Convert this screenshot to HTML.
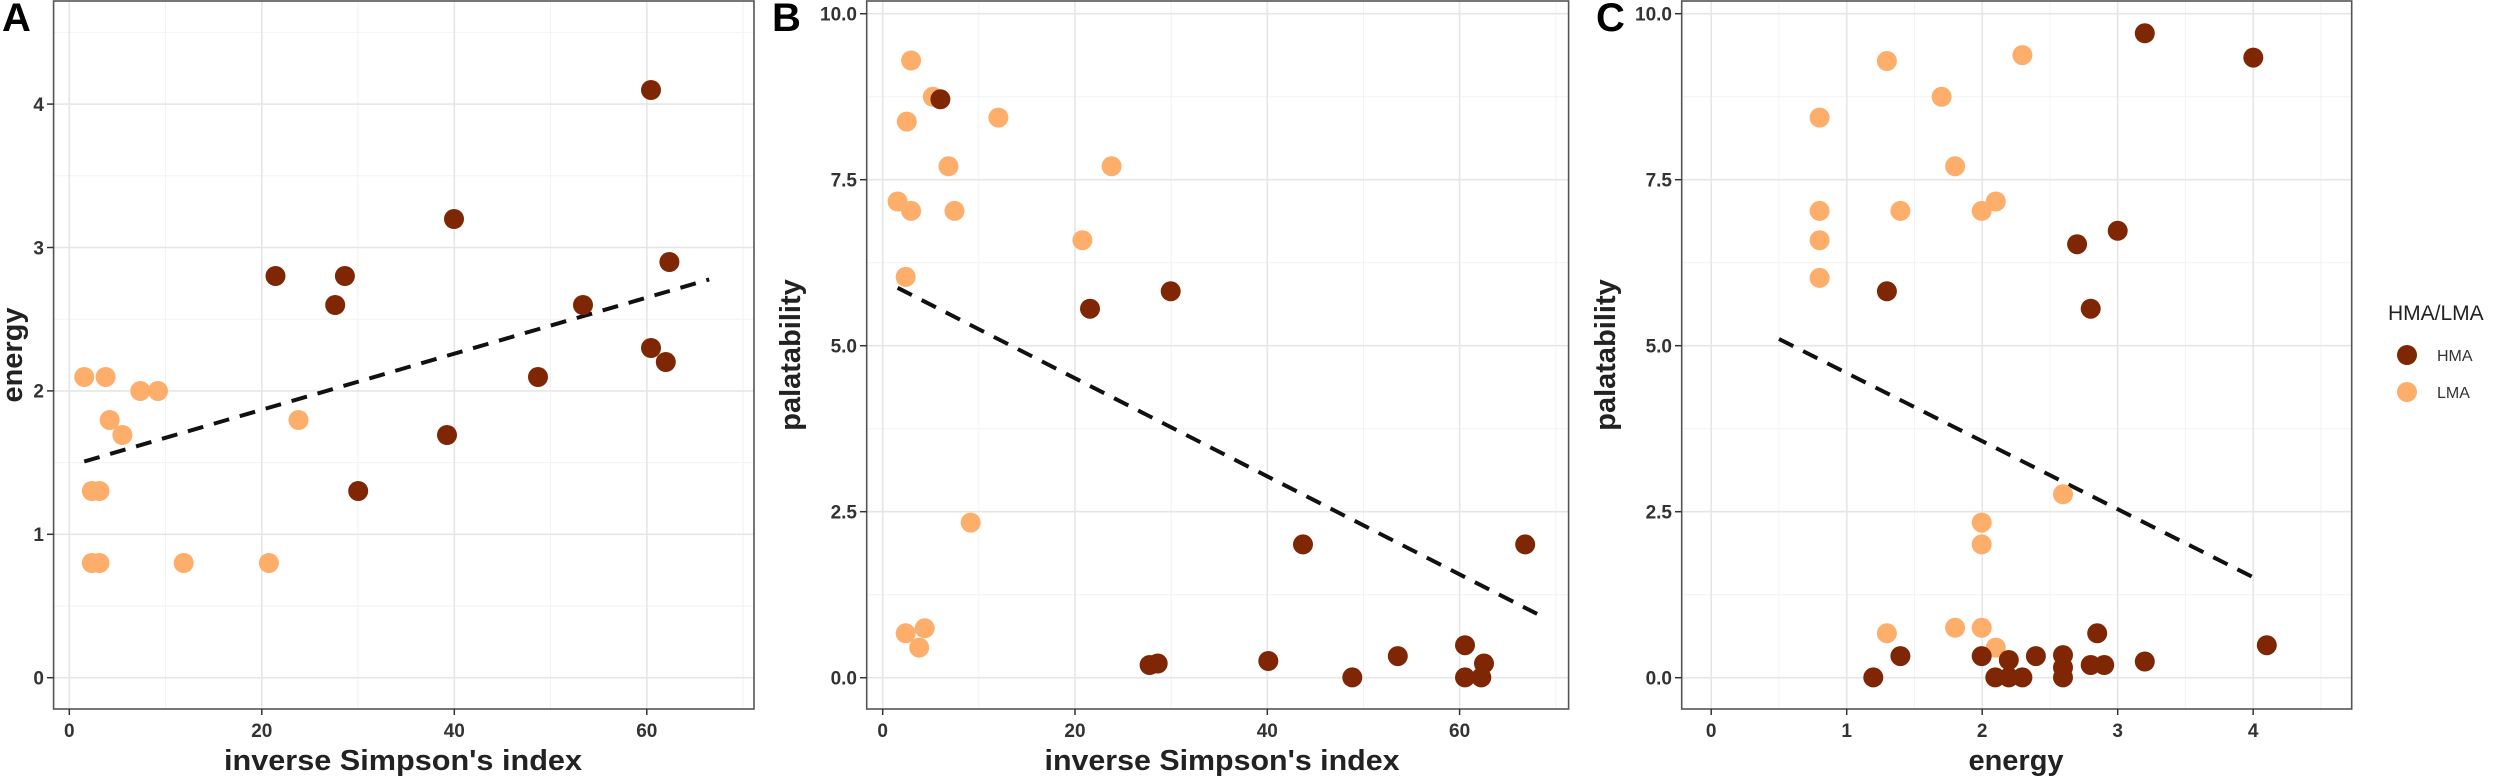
<!DOCTYPE html>
<html><head><meta charset="utf-8"><style>
html,body{margin:0;padding:0;background:#fff;}
svg{display:block;}
text{font-family:"Liberation Sans",Arial,sans-serif;}
.tk{font-size:19px;font-weight:bold;fill:#333;}
.tt{font-size:29px;font-weight:bold;fill:#222;}
.pl{font-size:40px;font-weight:bold;fill:#000;}
.mj{stroke:#e6e6e6;stroke-width:1.6;}
.mn{stroke:#f2f2f2;stroke-width:1;}
.h{fill:#7f2704;}
.l{fill:#fdae6b;}
.bd{fill:none;stroke:#555;stroke-width:1.6;}
.tm{stroke:#333;stroke-width:1.5;}
.dl{stroke:#111;stroke-width:4;stroke-dasharray:16,11;fill:none;}
</style></head><body>
<svg width="2500" height="778" viewBox="0 0 2500 778" xmlns="http://www.w3.org/2000/svg">
<!-- Panel A -->
<g>
<line class="mn" x1="53.6" x2="754" y1="606" y2="606"/><line class="mn" x1="53.6" x2="754" y1="462.6" y2="462.6"/><line class="mn" x1="53.6" x2="754" y1="319.2" y2="319.2"/><line class="mn" x1="53.6" x2="754" y1="175.8" y2="175.8"/><line class="mn" x1="53.6" x2="754" y1="32.4" y2="32.4"/>
<line class="mn" y1="1" y2="709" x1="165.6" x2="165.6"/><line class="mn" y1="1" y2="709" x1="358" x2="358"/><line class="mn" y1="1" y2="709" x1="550.5" x2="550.5"/><line class="mn" y1="1" y2="709" x1="743" x2="743"/>
<line class="mj" x1="53.6" x2="754" y1="677.7" y2="677.7"/><line class="mj" x1="53.6" x2="754" y1="534.3" y2="534.3"/><line class="mj" x1="53.6" x2="754" y1="390.9" y2="390.9"/><line class="mj" x1="53.6" x2="754" y1="247.5" y2="247.5"/><line class="mj" x1="53.6" x2="754" y1="104.1" y2="104.1"/>
<line class="mj" y1="1" y2="709" x1="69.3" x2="69.3"/><line class="mj" y1="1" y2="709" x1="261.8" x2="261.8"/><line class="mj" y1="1" y2="709" x1="454.3" x2="454.3"/><line class="mj" y1="1" y2="709" x1="646.8" x2="646.8"/>
<line class="dl" x1="84.2" y1="461.5" x2="709.2" y2="279.4"/>
<g class="l"><circle cx="84.2" cy="377" r="10"/><circle cx="105.6" cy="377" r="10"/><circle cx="140.3" cy="391" r="10"/><circle cx="158" cy="391" r="10"/><circle cx="109.7" cy="420" r="10"/><circle cx="122.4" cy="435" r="10"/><circle cx="91.8" cy="491" r="10"/><circle cx="99.5" cy="491" r="10"/><circle cx="91.8" cy="563" r="10"/><circle cx="99.5" cy="563" r="10"/><circle cx="183.7" cy="563" r="10"/><circle cx="268.9" cy="563" r="10"/><circle cx="298.5" cy="420" r="10"/></g>
<g class="h"><circle cx="275.5" cy="276" r="10"/><circle cx="344.9" cy="276" r="10"/><circle cx="335.2" cy="305" r="10"/><circle cx="358.2" cy="491" r="10"/><circle cx="454" cy="219" r="10"/><circle cx="447" cy="435" r="10"/><circle cx="538" cy="377" r="10"/><circle cx="583" cy="305" r="10"/><circle cx="651" cy="90" r="10"/><circle cx="651" cy="348" r="10"/><circle cx="665.8" cy="362" r="10"/><circle cx="669.4" cy="262" r="10"/></g>
<rect class="bd" x="53.6" y="1" width="700.4" height="708"/>
<g class="tm"><line x1="47" x2="53.6" y1="677.7" y2="677.7"/><line x1="47" x2="53.6" y1="534.3" y2="534.3"/><line x1="47" x2="53.6" y1="390.9" y2="390.9"/><line x1="47" x2="53.6" y1="247.5" y2="247.5"/><line x1="47" x2="53.6" y1="104.1" y2="104.1"/>
<line y1="709" y2="715" x1="69.3" x2="69.3"/><line y1="709" y2="715" x1="261.8" x2="261.8"/><line y1="709" y2="715" x1="454.3" x2="454.3"/><line y1="709" y2="715" x1="646.8" x2="646.8"/></g>
<g class="tk" text-anchor="end"><text x="44" y="684.5">0</text><text x="44" y="541">1</text><text x="44" y="397.7">2</text><text x="44" y="254.3">3</text><text x="44" y="110.9">4</text></g>
<g class="tk" text-anchor="middle"><text x="69.3" y="737">0</text><text x="261.8" y="737">20</text><text x="454.3" y="737">40</text><text x="646.8" y="737">60</text></g>
<text class="tt" x="403" y="770" text-anchor="middle" textLength="358" lengthAdjust="spacingAndGlyphs">inverse Simpson's index</text>
<text class="tt" transform="translate(22,355) rotate(-90)" text-anchor="middle">energy</text>
<text class="pl" x="2" y="31">A</text>
</g>
<!-- Panel B -->
<g>
<line class="mn" x1="866.7" x2="1568.6" y1="594.7" y2="594.7"/><line class="mn" x1="866.7" x2="1568.6" y1="428.7" y2="428.7"/><line class="mn" x1="866.7" x2="1568.6" y1="262.7" y2="262.7"/><line class="mn" x1="866.7" x2="1568.6" y1="96.7" y2="96.7"/>
<line class="mn" y1="1" y2="709" x1="978.8" x2="978.8"/><line class="mn" y1="1" y2="709" x1="1171.2" x2="1171.2"/><line class="mn" y1="1" y2="709" x1="1363.5" x2="1363.5"/><line class="mn" y1="1" y2="709" x1="1555.8" x2="1555.8"/>
<line class="mj" x1="866.7" x2="1568.6" y1="677.7" y2="677.7"/><line class="mj" x1="866.7" x2="1568.6" y1="511.7" y2="511.7"/><line class="mj" x1="866.7" x2="1568.6" y1="345.7" y2="345.7"/><line class="mj" x1="866.7" x2="1568.6" y1="179.7" y2="179.7"/><line class="mj" x1="866.7" x2="1568.6" y1="13.7" y2="13.7"/>
<line class="mj" y1="1" y2="709" x1="882.7" x2="882.7"/><line class="mj" y1="1" y2="709" x1="1075" x2="1075"/><line class="mj" y1="1" y2="709" x1="1267.3" x2="1267.3"/><line class="mj" y1="1" y2="709" x1="1459.6" x2="1459.6"/>
<line class="dl" x1="897.6" y1="287.8" x2="1537.1" y2="613.9"/>
<g class="l"><circle cx="911.1" cy="60.5" r="10"/><circle cx="932.8" cy="96.8" r="10"/><circle cx="906.8" cy="121.6" r="10"/><circle cx="998.4" cy="117.6" r="10"/><circle cx="948.5" cy="166.3" r="10"/><circle cx="897.6" cy="201.5" r="10"/><circle cx="911.1" cy="210.9" r="10"/><circle cx="954.5" cy="210.9" r="10"/><circle cx="1111.6" cy="166.3" r="10"/><circle cx="1082.4" cy="240.2" r="10"/><circle cx="905.7" cy="276.9" r="10"/><circle cx="970.7" cy="522.6" r="10"/><circle cx="905.7" cy="633.3" r="10"/><circle cx="924.7" cy="628.3" r="10"/><circle cx="919.2" cy="647.6" r="10"/></g>
<g class="h"><circle cx="940.4" cy="99.3" r="10"/><circle cx="1170.7" cy="291.3" r="10"/><circle cx="1090" cy="308.7" r="10"/><circle cx="1149.6" cy="665" r="10"/><circle cx="1157.7" cy="663.5" r="10"/><circle cx="1268.3" cy="661" r="10"/><circle cx="1303" cy="544.4" r="10"/><circle cx="1352.3" cy="677.4" r="10"/><circle cx="1397.8" cy="656.1" r="10"/><circle cx="1465" cy="645.2" r="10"/><circle cx="1465" cy="677.4" r="10"/><circle cx="1481.3" cy="677.4" r="10"/><circle cx="1484" cy="663.5" r="10"/><circle cx="1525.2" cy="544.4" r="10"/></g>
<rect class="bd" x="866.7" y="1" width="701.9" height="708"/>
<g class="tm"><line x1="860" x2="866.7" y1="677.7" y2="677.7"/><line x1="860" x2="866.7" y1="511.7" y2="511.7"/><line x1="860" x2="866.7" y1="345.7" y2="345.7"/><line x1="860" x2="866.7" y1="179.7" y2="179.7"/><line x1="860" x2="866.7" y1="13.7" y2="13.7"/>
<line y1="709" y2="715" x1="882.7" x2="882.7"/><line y1="709" y2="715" x1="1075" x2="1075"/><line y1="709" y2="715" x1="1267.3" x2="1267.3"/><line y1="709" y2="715" x1="1459.6" x2="1459.6"/></g>
<g class="tk" text-anchor="end"><text x="857" y="684.5">0.0</text><text x="857" y="518.5">2.5</text><text x="857" y="352.5">5.0</text><text x="857" y="186.5">7.5</text><text x="857" y="20.5">10.0</text></g>
<g class="tk" text-anchor="middle"><text x="882.7" y="737">0</text><text x="1075" y="737">20</text><text x="1267.3" y="737">40</text><text x="1459.6" y="737">60</text></g>
<text class="tt" x="1222" y="770" text-anchor="middle" textLength="355" lengthAdjust="spacingAndGlyphs">inverse Simpson's index</text>
<text class="tt" transform="translate(800,355) rotate(-90)" text-anchor="middle">palatability</text>
<text class="pl" x="772" y="31">B</text>
</g>
<!-- Panel C -->
<g>
<line class="mn" x1="1681.7" x2="2351.7" y1="594.7" y2="594.7"/><line class="mn" x1="1681.7" x2="2351.7" y1="428.7" y2="428.7"/><line class="mn" x1="1681.7" x2="2351.7" y1="262.7" y2="262.7"/><line class="mn" x1="1681.7" x2="2351.7" y1="96.7" y2="96.7"/>
<line class="mn" y1="1" y2="709" x1="1778.9" x2="1778.9"/><line class="mn" y1="1" y2="709" x1="1914.4" x2="1914.4"/><line class="mn" y1="1" y2="709" x1="2049.9" x2="2049.9"/><line class="mn" y1="1" y2="709" x1="2185.4" x2="2185.4"/><line class="mn" y1="1" y2="709" x1="2320.9" x2="2320.9"/>
<line class="mj" x1="1681.7" x2="2351.7" y1="677.7" y2="677.7"/><line class="mj" x1="1681.7" x2="2351.7" y1="511.7" y2="511.7"/><line class="mj" x1="1681.7" x2="2351.7" y1="345.7" y2="345.7"/><line class="mj" x1="1681.7" x2="2351.7" y1="179.7" y2="179.7"/><line class="mj" x1="1681.7" x2="2351.7" y1="13.7" y2="13.7"/>
<line class="mj" y1="1" y2="709" x1="1711.2" x2="1711.2"/><line class="mj" y1="1" y2="709" x1="1846.7" x2="1846.7"/><line class="mj" y1="1" y2="709" x1="1982.2" x2="1982.2"/><line class="mj" y1="1" y2="709" x1="2117.7" x2="2117.7"/><line class="mj" y1="1" y2="709" x1="2253.2" x2="2253.2"/>
<line class="dl" x1="1779" y1="339" x2="2259.8" y2="580.6"/>
<g class="l"><circle cx="1819.6" cy="117.6" r="10"/><circle cx="1886.9" cy="61" r="10"/><circle cx="1941.6" cy="96.8" r="10"/><circle cx="2022.4" cy="55.1" r="10"/><circle cx="1955.1" cy="166.3" r="10"/><circle cx="1819.6" cy="210.9" r="10"/><circle cx="1900.4" cy="210.9" r="10"/><circle cx="1981.7" cy="210.9" r="10"/><circle cx="1995.8" cy="201.5" r="10"/><circle cx="1819.6" cy="240.2" r="10"/><circle cx="1819.6" cy="277.9" r="10"/><circle cx="2063" cy="494.3" r="10"/><circle cx="1981.7" cy="522.6" r="10"/><circle cx="1981.7" cy="544.4" r="10"/><circle cx="1886.9" cy="633.3" r="10"/><circle cx="1955.1" cy="627.8" r="10"/><circle cx="1981.7" cy="627.8" r="10"/><circle cx="1995.8" cy="647.6" r="10"/></g>
<g class="h"><circle cx="2144.8" cy="33.3" r="10"/><circle cx="2253.3" cy="57.6" r="10"/><circle cx="2117.7" cy="230.8" r="10"/><circle cx="2077.1" cy="244.2" r="10"/><circle cx="1886.9" cy="291.3" r="10"/><circle cx="2090.7" cy="308.7" r="10"/><circle cx="2266.8" cy="645.2" r="10"/><circle cx="1873.3" cy="677.4" r="10"/><circle cx="1900.4" cy="656.1" r="10"/><circle cx="1981.7" cy="656.1" r="10"/><circle cx="1995.3" cy="677.4" r="10"/><circle cx="2008.8" cy="660" r="10"/><circle cx="2008.8" cy="677.4" r="10"/><circle cx="2022.4" cy="677.4" r="10"/><circle cx="2035.9" cy="656.1" r="10"/><circle cx="2063" cy="655.1" r="10"/><circle cx="2063" cy="667.5" r="10"/><circle cx="2063" cy="677.4" r="10"/><circle cx="2090.7" cy="665" r="10"/><circle cx="2104.2" cy="665" r="10"/><circle cx="2097.2" cy="633.3" r="10"/><circle cx="2144.8" cy="661.5" r="10"/></g>
<rect class="bd" x="1681.7" y="1" width="670" height="708"/>
<g class="tm"><line x1="1675" x2="1681.7" y1="677.7" y2="677.7"/><line x1="1675" x2="1681.7" y1="511.7" y2="511.7"/><line x1="1675" x2="1681.7" y1="345.7" y2="345.7"/><line x1="1675" x2="1681.7" y1="179.7" y2="179.7"/><line x1="1675" x2="1681.7" y1="13.7" y2="13.7"/>
<line y1="709" y2="715" x1="1711.2" x2="1711.2"/><line y1="709" y2="715" x1="1846.7" x2="1846.7"/><line y1="709" y2="715" x1="1982.2" x2="1982.2"/><line y1="709" y2="715" x1="2117.7" x2="2117.7"/><line y1="709" y2="715" x1="2253.2" x2="2253.2"/></g>
<g class="tk" text-anchor="end"><text x="1672" y="684.5">0.0</text><text x="1672" y="518.5">2.5</text><text x="1672" y="352.5">5.0</text><text x="1672" y="186.5">7.5</text><text x="1672" y="20.5">10.0</text></g>
<g class="tk" text-anchor="middle"><text x="1711.2" y="737">0</text><text x="1846.7" y="737">1</text><text x="1982.2" y="737">2</text><text x="2117.7" y="737">3</text><text x="2253.2" y="737">4</text></g>
<text class="tt" x="2016" y="770" text-anchor="middle">energy</text>
<text class="tt" transform="translate(1615,355) rotate(-90)" text-anchor="middle">palatability</text>
<text class="pl" x="1596" y="31">C</text>
</g>
<!-- Legend -->
<text x="2388" y="320" style="font-size:21px;fill:#222;">HMA/LMA</text>
<circle class="h" cx="2407" cy="355" r="10"/>
<circle class="l" cx="2407" cy="392" r="10"/>
<text x="2437" y="361" style="font-size:16px;fill:#333;">HMA</text>
<text x="2437" y="398" style="font-size:16px;fill:#333;">LMA</text>
</svg>
</body></html>
